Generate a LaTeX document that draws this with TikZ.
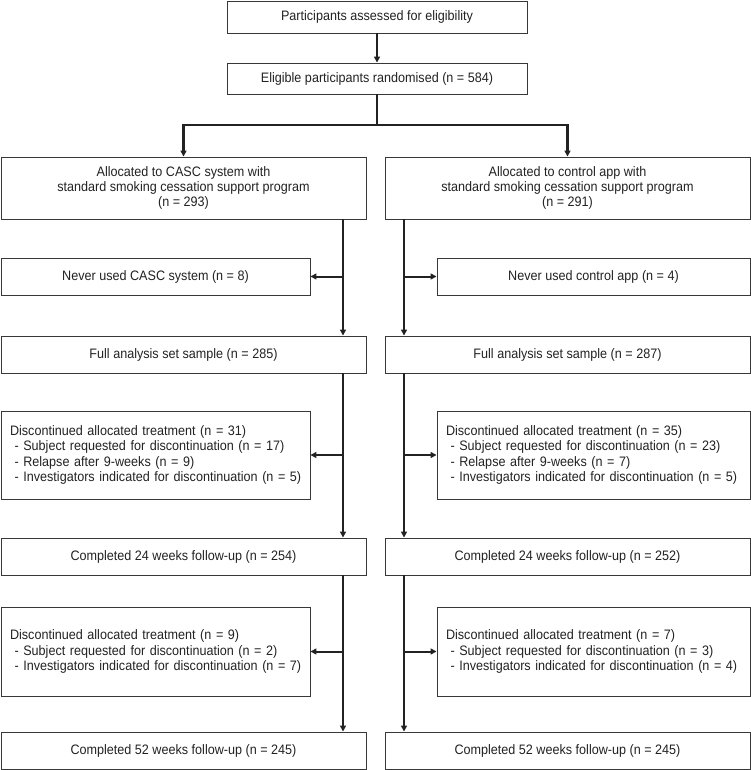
\documentclass[tikz,border=0pt]{standalone}
\usepackage{fontspec}
\setmainfont{Liberation Sans}[FakeStretch=0.92]
\usetikzlibrary{arrows.meta}
\definecolor{ink}{HTML}{222222}
\newcommand{\oneline}[1]{\mbox{#1}}
\begin{document}
\begin{tikzpicture}[x=1pt,y=-1pt,
  font=\fontsize{13.7}{15.4}\selectfont,
  box/.style={draw=ink!90, line width=0.9pt, text=ink, inner xsep=9pt, inner ysep=2pt, align=center},
  sidebox/.style={box, align=left},
  conn/.style={draw=ink, line width=2pt, -{Triangle[length=6pt,width=6pt]}},
  line/.style={draw=ink, line width=2pt}]
\useasboundingbox (0,0) rectangle (751,770);
% top
\node[box, minimum width=300, minimum height=32] (T) at (377,17) {Participants assessed for eligibility};
\node[box, minimum width=300, minimum height=31] (E) at (377,78.5) {Eligible participants randomised (n = 584)};
% allocation
\node[box, minimum width=365, minimum height=62] (L1) at (183.5,188) {Allocated to CASC system with\\standard smoking cessation support program\\(n = 293)};
\node[box, minimum width=365, minimum height=62] (R1) at (567.5,188) {Allocated to control app with\\standard smoking cessation support program\\(n = 291)};
% never used
\node[box, minimum width=309, minimum height=37] (NL) at (155.5,276.5) {Never used CASC system (n = 8)};
\node[box, minimum width=313, minimum height=37] (NR) at (593.5,276.5) {Never used control app (n = 4)};
% full analysis
\node[box, minimum width=365, minimum height=37] (FL) at (183.5,354.5) {Full analysis set sample (n = 285)};
\node[box, minimum width=365, minimum height=37] (FR) at (567.5,354.5) {Full analysis set sample (n = 287)};
% discontinued 1
\node[sidebox, text width=291, minimum height=88] (DL) at (155.5,455) {\oneline{Discontinued allocated treatment (n = 31)}\\\oneline{\ - Subject requested for discontinuation (n = 17)}\\\oneline{\ - Relapse after 9-weeks (n = 9)}\\\oneline{\ - Investigators indicated for discontinuation (n = 5)}};
\node[sidebox, text width=295, minimum height=88] (DR) at (593.5,455) {\oneline{Discontinued allocated treatment (n = 35)}\\\oneline{\ - Subject requested for discontinuation (n = 23)}\\\oneline{\ - Relapse after 9-weeks (n = 7)}\\\oneline{\ - Investigators indicated for discontinuation (n = 5)}};
% completed 24
\node[box, minimum width=365, minimum height=37] (CL) at (183.5,556.5) {Completed 24 weeks follow-up (n = 254)};
\node[box, minimum width=365, minimum height=37] (CR) at (567.5,556.5) {Completed 24 weeks follow-up (n = 252)};
% discontinued 2
\node[sidebox, text width=291, minimum height=89] (DL2) at (155.5,651.5) {\oneline{Discontinued allocated treatment (n = 9)}\\\oneline{\ - Subject requested for discontinuation (n = 2)}\\\oneline{\ - Investigators indicated for discontinuation (n = 7)}};
\node[sidebox, text width=295, minimum height=89] (DR2) at (593.5,651.5) {\oneline{Discontinued allocated treatment (n = 7)}\\\oneline{\ - Subject requested for discontinuation (n = 3)}\\\oneline{\ - Investigators indicated for discontinuation (n = 4)}};
% completed 52
\node[box, minimum width=365, minimum height=37] (ML) at (183.5,750.5) {Completed 52 weeks follow-up (n = 245)};
\node[box, minimum width=365, minimum height=37] (MR) at (567.5,750.5) {Completed 52 weeks follow-up (n = 245)};
% connectors
\coordinate (split) at (377,125);
\coordinate (lx) at (343,0);
\coordinate (rx) at (404,0);
\draw[conn] (T) -- (E);
\draw[line, line width=2.4pt] (E.south) -- (split);
\draw[conn, line width=2.4pt] (split) -| (L1.north);
\draw[conn, line width=2.4pt] (split) -| (R1.north);
% left column
\draw[conn] (L1.south -| lx) -- (FL.north -| lx);
\draw[conn] (NL.east -| lx) -- (NL.east);
\draw[conn] (FL.south -| lx) -- (CL.north -| lx);
\draw[conn] (DL.east -| lx) -- (DL.east);
\draw[conn] (CL.south -| lx) -- (ML.north -| lx);
\draw[conn] (DL2.east -| lx) -- (DL2.east);
% right column
\draw[conn] (R1.south -| rx) -- (FR.north -| rx);
\draw[conn] (NR.west -| rx) -- (NR.west);
\draw[conn] (FR.south -| rx) -- (CR.north -| rx);
\draw[conn] (DR.west -| rx) -- (DR.west);
\draw[conn] (CR.south -| rx) -- (MR.north -| rx);
\draw[conn] (DR2.west -| rx) -- (DR2.west);
\end{tikzpicture}
\end{document}
